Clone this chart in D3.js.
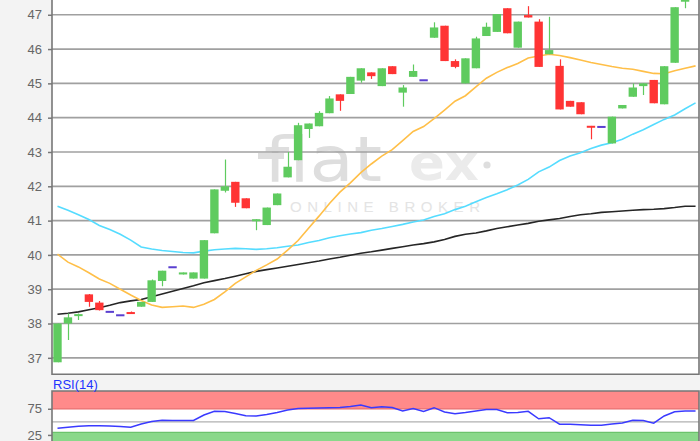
<!DOCTYPE html>
<html>
<head>
<meta charset="utf-8">
<script src="https://cdn.jsdelivr.net/npm/d3@7/dist/d3.min.js"></script>
<style>
  html, body { margin: 0; padding: 0; background: #f3f3f3; }
  svg { display: block; font-family: "Liberation Sans", Arial, sans-serif; }
</style>
</head>
<body>
<svg id="chart"></svg>
<script>
// daily candles, oldest first (last one sits above the visible range)
var openVals = [36.87, 38.0, 38.22, 38.85, 38.61, 38.34, 38.24, 38.32, 38.49, 38.63,
  39.24, 39.64, 39.43, 39.31, 39.31, 40.63, 41.87, 42.13, 41.65, 40.98,
  40.87, 41.45, 42.26, 42.76, 43.67, 43.75, 44.13, 44.68, 44.69, 45.08,
  45.32, 44.92, 45.5, 44.73, 45.19, 45.09, 46.33, 46.68, 45.65, 45.0,
  45.44, 46.38, 46.5, 47.19, 46.04, 46.99, 46.8, 45.85, 45.51, 44.49,
  44.45, 43.76, 43.73, 43.25, 44.27, 44.61, 44.92, 45.1, 44.39, 45.6,
  47.38, 47.8];
var highVals = [38.0, 38.29, 38.29, 38.86, 38.66, 38.34, 38.24, 38.35, 38.63, 39.28,
  39.54, 39.64, 39.49, 39.49, 40.43, 41.91, 42.78, 42.13, 41.65, 41.04,
  41.38, 41.79, 43.0, 43.85, 43.83, 44.19, 44.63, 44.68, 45.19, 45.44,
  45.32, 45.44, 45.5, 44.95, 45.55, 45.09, 46.78, 46.68, 45.7, 45.73,
  46.36, 46.77, 47.02, 47.19, 46.8, 47.25, 46.87, 46.94, 45.7, 44.49,
  44.45, 43.76, 43.73, 44.03, 44.37, 45.0, 45.0, 45.1, 45.5, 47.22,
  47.7, 48.1];
var lowVals = [36.87, 37.52, 38.1, 38.49, 38.38, 38.34, 38.24, 38.29, 38.49, 38.63,
  39.09, 39.64, 39.43, 39.31, 39.31, 40.63, 41.82, 41.4, 41.36, 40.72,
  40.87, 41.45, 42.26, 42.76, 43.41, 43.75, 44.13, 44.2, 44.69, 45.02,
  45.13, 44.92, 45.27, 44.32, 45.19, 45.09, 46.33, 45.65, 45.44, 45.0,
  45.44, 46.38, 46.5, 46.46, 46.04, 46.92, 45.48, 45.85, 44.24, 44.32,
  44.1, 43.37, 43.73, 43.25, 44.27, 44.61, 44.66, 44.42, 44.39, 45.6,
  47.19, 47.6];
var closeVals = [38.0, 38.18, 38.27, 38.63, 38.39, 38.34, 38.24, 38.29, 38.63, 39.26,
  39.54, 39.64, 39.49, 39.49, 40.43, 41.91, 42.0, 41.52, 41.36, 41.04,
  41.38, 41.79, 42.57, 43.78, 43.83, 44.14, 44.56, 44.49, 45.19, 45.44,
  45.21, 45.44, 45.27, 44.88, 45.36, 45.09, 46.63, 45.65, 45.48, 45.73,
  46.31, 46.65, 47.02, 46.46, 46.8, 46.92, 45.48, 45.97, 44.24, 44.32,
  44.1, 43.71, 43.73, 44.03, 44.37, 44.88, 45.0, 44.42, 45.5, 47.22,
  47.65, 48.0];

// moving averages
var maShort = [40.02, 39.79, 39.65, 39.48, 39.3, 39.17, 39.0, 38.83, 38.67, 38.54,
  38.47, 38.49, 38.51, 38.47, 38.56, 38.7, 38.92, 39.17, 39.36, 39.55,
  39.71, 39.88, 40.14, 40.42, 40.78, 41.13, 41.5, 41.83, 42.1, 42.4,
  42.65, 42.88, 43.07, 43.33, 43.6, 43.74, 43.97, 44.22, 44.48, 44.64,
  44.9, 45.15, 45.32, 45.46, 45.58, 45.74, 45.8, 45.85, 45.81, 45.75,
  45.68, 45.61, 45.55, 45.49, 45.44, 45.41, 45.35, 45.29, 45.28, 45.37,
  45.44, 45.51];
var maMid = [41.42, 41.3, 41.17, 41.03, 40.86, 40.74, 40.6, 40.43, 40.23, 40.17,
  40.13, 40.1, 40.07, 40.06, 40.11, 40.15, 40.17, 40.19, 40.18, 40.16,
  40.18, 40.21, 40.25, 40.29, 40.36, 40.42, 40.5, 40.56, 40.61, 40.65,
  40.72, 40.77, 40.83, 40.89, 40.96, 41.02, 41.12, 41.2, 41.32, 41.42,
  41.55, 41.67, 41.78, 41.9, 42.04, 42.2, 42.42, 42.56, 42.75, 42.88,
  42.98, 43.1, 43.2, 43.27, 43.37, 43.52, 43.65, 43.8, 43.95, 44.08,
  44.26, 44.43];
var maLong = [38.27, 38.3, 38.34, 38.4, 38.46, 38.53, 38.61, 38.66, 38.7, 38.78,
  38.86, 38.94, 39.02, 39.1, 39.19, 39.25, 39.31, 39.38, 39.45, 39.52,
  39.57, 39.62, 39.67, 39.72, 39.77, 39.82, 39.88, 39.93, 39.99, 40.05,
  40.09, 40.14, 40.19, 40.24, 40.29, 40.33, 40.38, 40.45, 40.54, 40.6,
  40.64, 40.7, 40.77, 40.82, 40.87, 40.92, 40.98, 41.02, 41.06, 41.12,
  41.17, 41.2, 41.24, 41.26, 41.28, 41.3, 41.32, 41.33, 41.35, 41.38,
  41.42, 41.42];
var rsiVals = [37.7, 39.6, 41.5, 42.4, 42.4, 42.1, 41.1, 39.8, 45.9, 50.7,
  53.0, 52.6, 52.6, 52.6, 63.1, 70.2, 69.8, 66.0, 61.6, 61.2,
  64.1, 67.9, 72.7, 75.5, 75.9, 76.5, 77.1, 77.4, 79.3, 82.2,
  77.1, 79.0, 77.4, 70.7, 75.5, 69.8, 77.1, 68.8, 65.6, 67.9,
  70.7, 73.6, 73.6, 67.5, 67.9, 70.2, 55.8, 57.9, 45.5, 45.3,
  44.4, 43.6, 43.6, 45.9, 47.8, 53.2, 52.6, 47.4, 61.2, 69.4,
  70.7, 70.7];

var yTicks = [37, 38, 39, 40, 41, 42, 43, 44, 45, 46, 47];
var rsiTicks = [75, 25];
var rsiHigh = 75, rsiLow = 30, rsiMid = 50;

var svgWidth = 700, svgHeight = 441;
var plotLeft = 52, plotRight = 699, plotTop = 0, plotBottom = 374.3;
var rsiTop = 391, rsiBottom = 448;

var upColor = "#5fcb5f", downColor = "#ff3434", flatColor = "#5a3fd0";
var frameColor = "#777";

var svg = d3.select("#chart").attr("width", svgWidth).attr("height", svgHeight);

var idx = d3.range(closeVals.length);

var xScale = d3.scaleBand()
  .domain(idx)
  .range([52.27, 52.27 + idx.length * 10.46])
  .paddingInner(0.2)
  .paddingOuter(0.1);
var xc = function (i) { return xScale(i) + xScale.bandwidth() / 2; };

var yScale = d3.scaleLinear().domain([36.52, 47.43]).range([plotBottom, plotTop]);
var rsiScale = d3.scaleLinear().domain([0, 109]).range([rsiBottom, rsiTop]);

svg.append("rect").attr("width", svgWidth).attr("height", svgHeight).attr("fill", "#f3f3f3");

var defs = svg.append("defs");
defs.append("clipPath").attr("id", "mainClip")
  .append("rect")
  .attr("x", plotLeft).attr("y", plotTop)
  .attr("width", plotRight - plotLeft).attr("height", plotBottom - plotTop);
defs.append("clipPath").attr("id", "rsiClip")
  .append("rect")
  .attr("x", plotLeft).attr("y", rsiTop)
  .attr("width", plotRight - plotLeft).attr("height", svgHeight - rsiTop);

// ---------- main panel ----------
svg.append("rect")
  .attr("x", plotLeft).attr("y", plotTop)
  .attr("width", plotRight - plotLeft).attr("height", plotBottom - plotTop)
  .attr("fill", "#fff");

// watermark
var wm = svg.append("g").attr("class", "watermark");
wm.append("rect")
  .attr("x", 258).attr("y", 153).attr("width", 26).attr("height", 6)
  .attr("fill", "#dedede");
wm.append("text")
  .attr("x", 264).attr("y", 181)
  .attr("font-family", "DejaVu Sans")
  .attr("font-size", 62)
  .attr("textLength", 118).attr("lengthAdjust", "spacingAndGlyphs")
  .attr("fill", "#dedede")
  .text("flat");
wm.append("text")
  .attr("x", 409).attr("y", 180)
  .attr("font-family", "DejaVu Sans")
  .attr("font-weight", "bold")
  .attr("font-size", 50)
  .attr("textLength", 70).attr("lengthAdjust", "spacingAndGlyphs")
  .attr("fill", "#ebebeb")
  .text("ex");
wm.append("circle").attr("cx", 487).attr("cy", 165).attr("r", 3.6).attr("fill", "#dedede");
wm.append("text")
  .attr("x", 290).attr("y", 212)
  .attr("font-size", 15)
  .attr("textLength", 190).attr("lengthAdjust", "spacing")
  .attr("fill", "#e4e4e4")
  .text("ONLINE BROKER");

// gridlines
svg.append("g")
  .selectAll("line")
  .data(yTicks)
  .enter()
  .append("line")
  .attr("x1", plotLeft).attr("x2", plotRight)
  .attr("y1", function (d) { return yScale(d); })
  .attr("y2", function (d) { return yScale(d); })
  .attr("stroke", "#a0a0a0")
  .attr("stroke-width", 1.7);

// y axis
svg.append("g")
  .attr("transform", "translate(" + plotLeft + ",0)")
  .call(d3.axisLeft(yScale).tickValues(yTicks).tickSize(4).tickPadding(6))
  .call(function (g) { g.select(".domain").remove(); })
  .call(function (g) {
    g.selectAll(".tick line").attr("stroke", frameColor).attr("stroke-width", 1.5);
    g.selectAll(".tick text")
      .attr("fill", "#666")
      .style("font-size", "13px")
      .style("font-family", "Liberation Sans, Arial, sans-serif");
  });

// moving averages
var mainG = svg.append("g").attr("clip-path", "url(#mainClip)");
var maLine = function (vals) {
  return d3.line()
    .x(function (d, i) { return xc(i); })
    .y(function (d) { return yScale(d); })(vals);
};
[[maLong, "#262626"], [maMid, "#55dcff"], [maShort, "#ffbf48"]].forEach(function (s) {
  mainG.append("path")
    .attr("d", maLine(s[0]))
    .attr("fill", "none")
    .attr("stroke", s[1])
    .attr("stroke-width", 1.6);
});

// candles
var candleColor = function (i) {
  if (closeVals[i] > openVals[i]) return upColor;
  if (closeVals[i] < openVals[i]) return downColor;
  return flatColor;
};
var candles = mainG.selectAll(".candle")
  .data(idx)
  .enter()
  .append("g")
  .attr("class", "candle");

candles.append("line")
  .attr("x1", function (i) { return Math.round(xc(i)) + 0.5; })
  .attr("x2", function (i) { return Math.round(xc(i)) + 0.5; })
  .attr("y1", function (i) { return yScale(highVals[i]); })
  .attr("y2", function (i) { return yScale(lowVals[i]); })
  .attr("stroke", candleColor)
  .attr("stroke-width", 1.2);

candles.append("rect")
  .attr("x", function (i) { return xScale(i); })
  .attr("width", xScale.bandwidth())
  .attr("y", function (i) {
    var top = yScale(Math.max(openVals[i], closeVals[i]));
    var h = yScale(Math.min(openVals[i], closeVals[i])) - top;
    return h < 2 ? top - (2 - h) / 2 : top;
  })
  .attr("height", function (i) {
    var h = yScale(Math.min(openVals[i], closeVals[i])) - yScale(Math.max(openVals[i], closeVals[i]));
    return Math.max(h, 2);
  })
  .attr("fill", candleColor);

// frame
svg.append("path")
  .attr("d", "M" + plotLeft + "," + plotTop + "V" + plotBottom + "H" + plotRight + "V" + plotTop)
  .attr("fill", "none")
  .attr("stroke", frameColor)
  .attr("stroke-width", 1.6);

// ---------- RSI panel ----------
svg.append("rect")
  .attr("x", plotLeft).attr("y", rsiTop)
  .attr("width", plotRight - plotLeft).attr("height", svgHeight - rsiTop)
  .attr("fill", "#fff");

var rsiG = svg.append("g").attr("clip-path", "url(#rsiClip)");

rsiG.append("rect")
  .attr("x", plotLeft).attr("y", rsiTop)
  .attr("width", plotRight - plotLeft).attr("height", rsiScale(rsiHigh) - rsiTop)
  .attr("fill", "#ff8a8a");
rsiG.append("line")
  .attr("x1", plotLeft).attr("x2", plotRight)
  .attr("y1", rsiScale(rsiHigh)).attr("y2", rsiScale(rsiHigh))
  .attr("stroke", "#e86a6a").attr("stroke-width", 1.2);

rsiG.append("rect")
  .attr("x", plotLeft).attr("y", rsiScale(rsiLow))
  .attr("width", plotRight - plotLeft).attr("height", rsiBottom - rsiScale(rsiLow))
  .attr("fill", "#8ad88a");
rsiG.append("line")
  .attr("x1", plotLeft).attr("x2", plotRight)
  .attr("y1", rsiScale(rsiLow)).attr("y2", rsiScale(rsiLow))
  .attr("stroke", "#6cc36c").attr("stroke-width", 1.2);

rsiG.append("line")
  .attr("x1", plotLeft).attr("x2", plotRight)
  .attr("y1", rsiScale(rsiMid)).attr("y2", rsiScale(rsiMid))
  .attr("stroke", "#b0b0b0").attr("stroke-width", 1.4);

rsiG.append("path")
  .attr("d", d3.line()
    .x(function (d, i) { return xc(i); })
    .y(function (d) { return rsiScale(d); })(rsiVals))
  .attr("fill", "none")
  .attr("stroke", "#3a3aff")
  .attr("stroke-width", 1.5);

svg.append("g")
  .attr("transform", "translate(" + plotLeft + ",0)")
  .call(d3.axisLeft(rsiScale).tickValues(rsiTicks).tickSize(4).tickPadding(6))
  .call(function (g) { g.select(".domain").remove(); })
  .call(function (g) {
    g.selectAll(".tick line").attr("stroke", frameColor).attr("stroke-width", 1.5);
    g.selectAll(".tick text")
      .attr("fill", "#666")
      .style("font-size", "13px")
      .style("font-family", "Liberation Sans, Arial, sans-serif");
  });

svg.append("path")
  .attr("d", "M" + plotLeft + "," + svgHeight + "V" + rsiTop + "H" + plotRight + "V" + svgHeight)
  .attr("fill", "none")
  .attr("stroke", frameColor)
  .attr("stroke-width", 1.6);

svg.append("text")
  .attr("x", 53).attr("y", 389)
  .attr("fill", "#2233ff")
  .style("font-size", "13px")
  .text("RSI(14)");
</script>
</body>
</html>
